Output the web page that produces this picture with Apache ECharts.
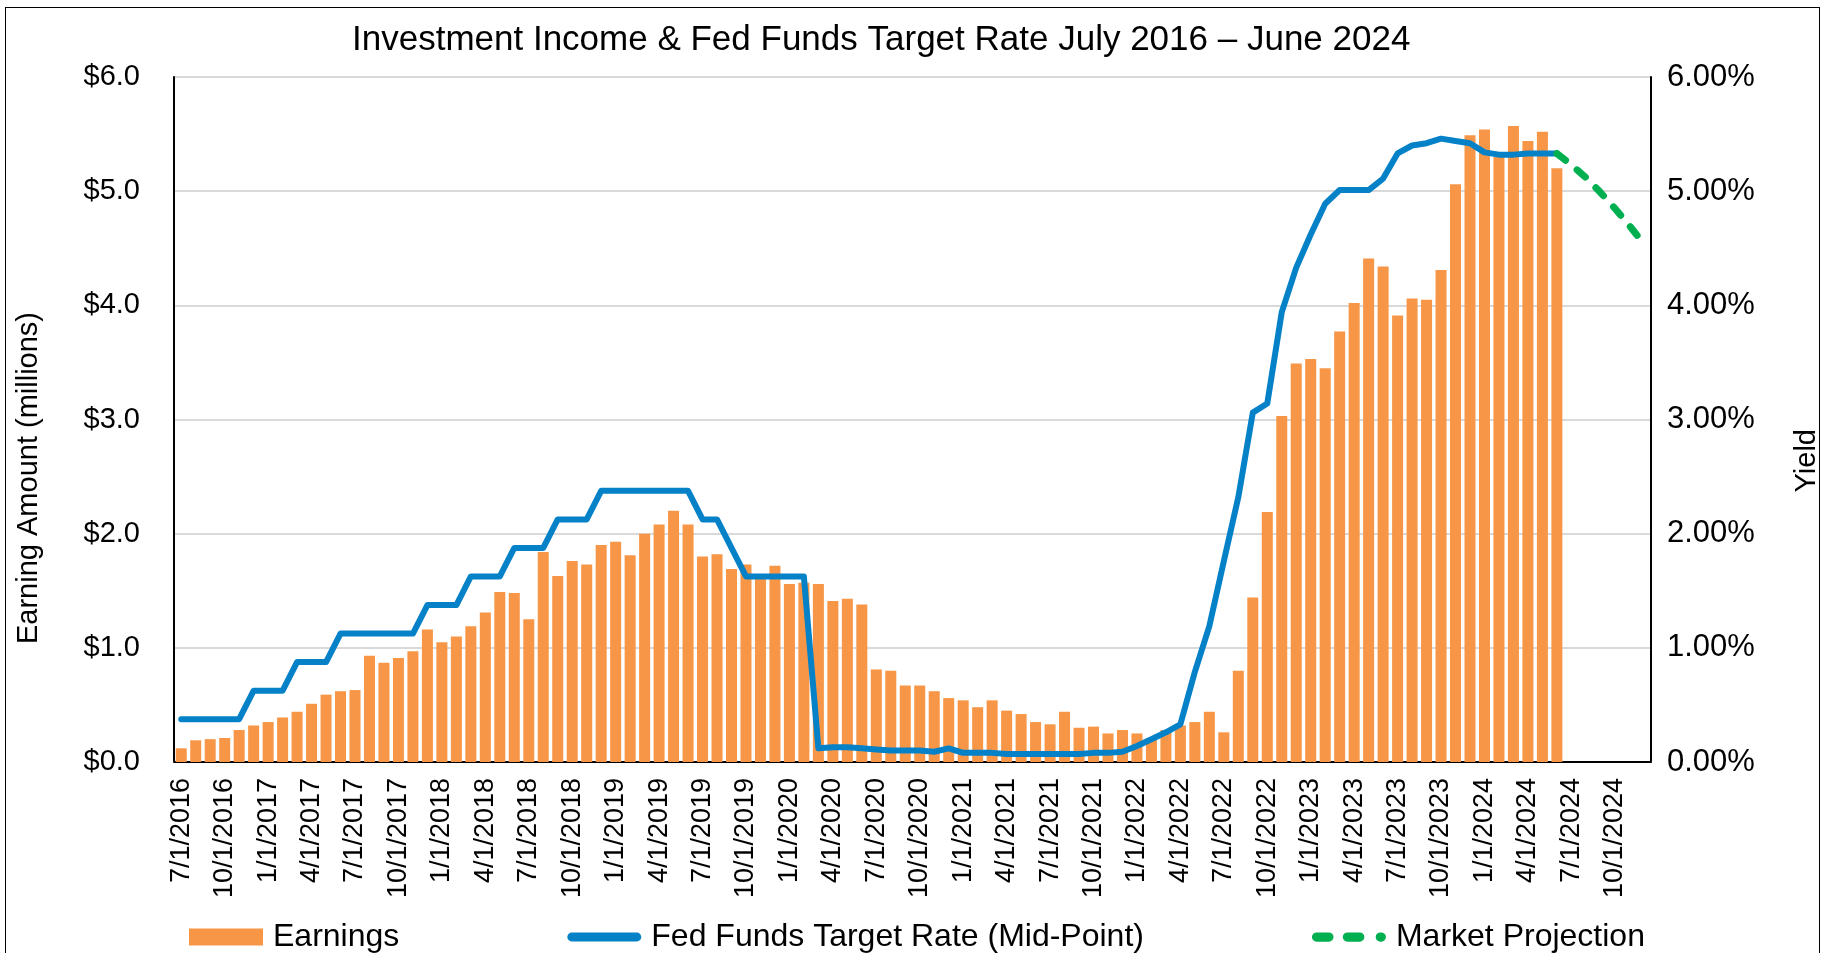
<!DOCTYPE html>
<html>
<head>
<meta charset="utf-8">
<script src="https://cdn.jsdelivr.net/npm/echarts@6/dist/echarts.min.js"></script>
<style>
html, body { margin: 0; padding: 0; background: #fff; }
#frame {
    position: absolute; left: 5px; top: 7px; width: 1815px; height: 960px;
    border: 1.5px solid #000; box-sizing: border-box;
}
#chart { position: absolute; left: 0; top: 0; width: 1828px; height: 953px; }
</style>
</head>
<body>
<div id="frame"></div>
<div id="chart"></div>
<script>
// monthly categories, 7/2016 - 12/2024
const months = [
    "7/1/2016", "8/1/2016", "9/1/2016", "10/1/2016", "11/1/2016", "12/1/2016",
    "1/1/2017", "2/1/2017", "3/1/2017", "4/1/2017", "5/1/2017", "6/1/2017",
    "7/1/2017", "8/1/2017", "9/1/2017", "10/1/2017", "11/1/2017", "12/1/2017",
    "1/1/2018", "2/1/2018", "3/1/2018", "4/1/2018", "5/1/2018", "6/1/2018",
    "7/1/2018", "8/1/2018", "9/1/2018", "10/1/2018", "11/1/2018", "12/1/2018",
    "1/1/2019", "2/1/2019", "3/1/2019", "4/1/2019", "5/1/2019", "6/1/2019",
    "7/1/2019", "8/1/2019", "9/1/2019", "10/1/2019", "11/1/2019", "12/1/2019",
    "1/1/2020", "2/1/2020", "3/1/2020", "4/1/2020", "5/1/2020", "6/1/2020",
    "7/1/2020", "8/1/2020", "9/1/2020", "10/1/2020", "11/1/2020", "12/1/2020",
    "1/1/2021", "2/1/2021", "3/1/2021", "4/1/2021", "5/1/2021", "6/1/2021",
    "7/1/2021", "8/1/2021", "9/1/2021", "10/1/2021", "11/1/2021", "12/1/2021",
    "1/1/2022", "2/1/2022", "3/1/2022", "4/1/2022", "5/1/2022", "6/1/2022",
    "7/1/2022", "8/1/2022", "9/1/2022", "10/1/2022", "11/1/2022", "12/1/2022",
    "1/1/2023", "2/1/2023", "3/1/2023", "4/1/2023", "5/1/2023", "6/1/2023",
    "7/1/2023", "8/1/2023", "9/1/2023", "10/1/2023", "11/1/2023", "12/1/2023",
    "1/1/2024", "2/1/2024", "3/1/2024", "4/1/2024", "5/1/2024", "6/1/2024",
    "7/1/2024", "8/1/2024", "9/1/2024", "10/1/2024", "11/1/2024", "12/1/2024"
];

// earnings, $ millions
const earnings = [
    0.12, 0.19, 0.20, 0.21, 0.28, 0.32, 0.35, 0.39, 0.44, 0.51, 0.59, 0.62,
    0.63, 0.93, 0.87, 0.91, 0.97, 1.16, 1.05, 1.10, 1.19, 1.31, 1.49, 1.48,
    1.25, 1.84, 1.63, 1.76, 1.73, 1.90, 1.93, 1.81, 2.00, 2.08, 2.20, 2.08,
    1.80, 1.82, 1.69, 1.73, 1.64, 1.72, 1.56, 1.57, 1.56, 1.41, 1.43, 1.38,
    0.81, 0.80, 0.67, 0.67, 0.62, 0.56, 0.54, 0.48, 0.54, 0.45, 0.42, 0.35,
    0.33, 0.44, 0.30, 0.31, 0.25, 0.28, 0.25, 0.21, 0.28, 0.32, 0.35, 0.44,
    0.26, 0.80, 1.44, 2.19, 3.03, 3.49, 3.53, 3.45, 3.77, 4.02, 4.41, 4.34,
    3.91, 4.06, 4.05, 4.31, 5.06, 5.49, 5.54, 5.30, 5.57, 5.44, 5.52, 5.20
];

// fed funds target rate mid-point, %
const fedRate = [
    0.375, 0.375, 0.375, 0.375, 0.375, 0.625, 0.625, 0.625, 0.875, 0.875, 0.875, 1.125,
    1.125, 1.125, 1.125, 1.125, 1.125, 1.375, 1.375, 1.375, 1.625, 1.625, 1.625, 1.875,
    1.875, 1.875, 2.125, 2.125, 2.125, 2.375, 2.375, 2.375, 2.375, 2.375, 2.375, 2.375,
    2.125, 2.125, 1.875, 1.625, 1.625, 1.625, 1.625, 1.625, 0.12, 0.13, 0.13, 0.12,
    0.11, 0.10, 0.10, 0.10, 0.09, 0.12, 0.08, 0.08, 0.08, 0.07, 0.07, 0.07,
    0.07, 0.07, 0.07, 0.08, 0.08, 0.09, 0.14, 0.20, 0.26, 0.33, 0.79, 1.19,
    1.76, 2.32, 3.06, 3.14, 3.94, 4.33, 4.62, 4.89, 5.01, 5.01, 5.01, 5.11,
    5.33, 5.40, 5.42, 5.46, 5.44, 5.42, 5.34, 5.32, 5.32, 5.33, 5.33, 5.33
];

// market projection, 6/2024 - 12/2024
const projStart = 95;
const projection = [5.33, 5.23, 5.12, 4.99, 4.85, 4.70, 4.54];

const leftTicks = [0, 1, 2, 3, 4, 5, 6];

let projData = months.map(() => null);
projection.forEach((v, k) => { projData[projStart + k] = v; });

// rounded legend marks
function capsule(x, w) {
    let r = 4.5;
    return "M" + (x + r) + ",0 L" + (x + w - r) + ",0 A4.5,4.5 0 0 1 " + (x + w - r) + ",9 L" +
        (x + r) + ",9 A4.5,4.5 0 0 1 " + (x + r) + ",0 Z ";
}
const blueIcon = "path://" + capsule(0, 76);
const greenIcon = "path://" + capsule(0, 21) + capsule(30, 21) + capsule(62, 10);

const font = "Liberation Sans, Arial, sans-serif";
const chart = echarts.init(document.getElementById("chart"));

chart.setOption({
    animation: false,
    textStyle: { fontFamily: font, color: "#000" },
    title: {
        text: "Investment Income & Fed Funds Target Rate July 2016 \u2013 June 2024",
        left: 347,
        top: 18,
        textStyle: { fontSize: 35, fontWeight: "normal", color: "#000", fontFamily: font }
    },
    legend: {
        left: 184,
        top: 916,
        itemWidth: 74,
        itemHeight: 17,
        itemGap: 168,
        textStyle: { fontSize: 32, color: "#000", fontFamily: font, padding: [0, 0, 0, 5] },
        data: [
            { name: "Earnings", icon: "rect", itemStyle: { color: "#F79646", borderWidth: 0 } },
            {
                name: "Fed Funds Target Rate (Mid-Point)", icon: blueIcon,
                itemStyle: { color: "#0581C8", borderWidth: 0 }
            },
            {
                name: "Market Projection", icon: greenIcon,
                itemStyle: { color: "#00B050", borderWidth: 0 }
            }
        ]
    },
    grid: { left: 174, right: 177, top: 77, bottom: 191 },
    graphic: [
        {
            type: "text", left: 14, top: 312, rotation: Math.PI / 2,
            style: { text: "Earning Amount (millions)", font: "29px " + font, fill: "#000" }
        },
        {
            type: "text", left: 1792, top: 429, rotation: Math.PI / 2,
            style: { text: "Yield", font: "29px " + font, fill: "#000" }
        }
    ],
    xAxis: [
        {
            type: "category",
            data: months,
            boundaryGap: true,
            axisLine: { lineStyle: { color: "#BFBFBF", width: 2 } },
            axisTick: { show: false },
            axisLabel: {
                interval: 2,
                rotate: 90,
                fontSize: 27,
                color: "#000",
                margin: 16,
                fontFamily: font
            }
        },
        {
            type: "category",
            data: months,
            position: "top",
            axisLine: { lineStyle: { color: "#000", width: 2 } },
            axisTick: { show: false },
            axisLabel: { show: false }
        }
    ],
    yAxis: [
        {
            type: "value",
            min: leftTicks[0],
            max: leftTicks[leftTicks.length - 1],
            interval: 1,
            axisLine: { show: true, lineStyle: { color: "#000", width: 2 } },
            axisTick: { show: false },
            splitLine: { lineStyle: { color: "#D9D9D9", width: 2 } },
            axisLabel: {
                fontSize: 29,
                color: "#000",
                margin: 34,
                fontFamily: font,
                formatter: v => "$" + v.toFixed(1)
            }
        },
        {
            type: "value",
            min: 0,
            max: 6,
            interval: 1,
            axisLine: { show: true, lineStyle: { color: "#000", width: 2 } },
            axisTick: { show: false },
            splitLine: { show: false },
            axisLabel: {
                fontSize: 31,
                color: "#000",
                margin: 16,
                fontFamily: font,
                formatter: v => v.toFixed(2) + "%"
            }
        }
    ],
    series: [
        {
            name: "Earnings",
            type: "bar",
            data: earnings,
            barCategoryGap: "24%",
            itemStyle: { color: "#F79646" }
        },
        {
            name: "Fed Funds Target Rate (Mid-Point)",
            type: "line",
            yAxisIndex: 1,
            data: fedRate,
            symbol: "none",
            lineStyle: { color: "#0581C8", width: 6, cap: "round", join: "round" },
            itemStyle: { color: "#0581C8" },
            z: 3
        },
        {
            name: "Market Projection",
            type: "line",
            yAxisIndex: 1,
            data: projData,
            symbol: "none",
            lineStyle: { color: "#00B050", width: 7, type: [11, 15], cap: "round" },
            itemStyle: { color: "#00B050" },
            z: 4
        }
    ]
});
</script>
</body>
</html>
